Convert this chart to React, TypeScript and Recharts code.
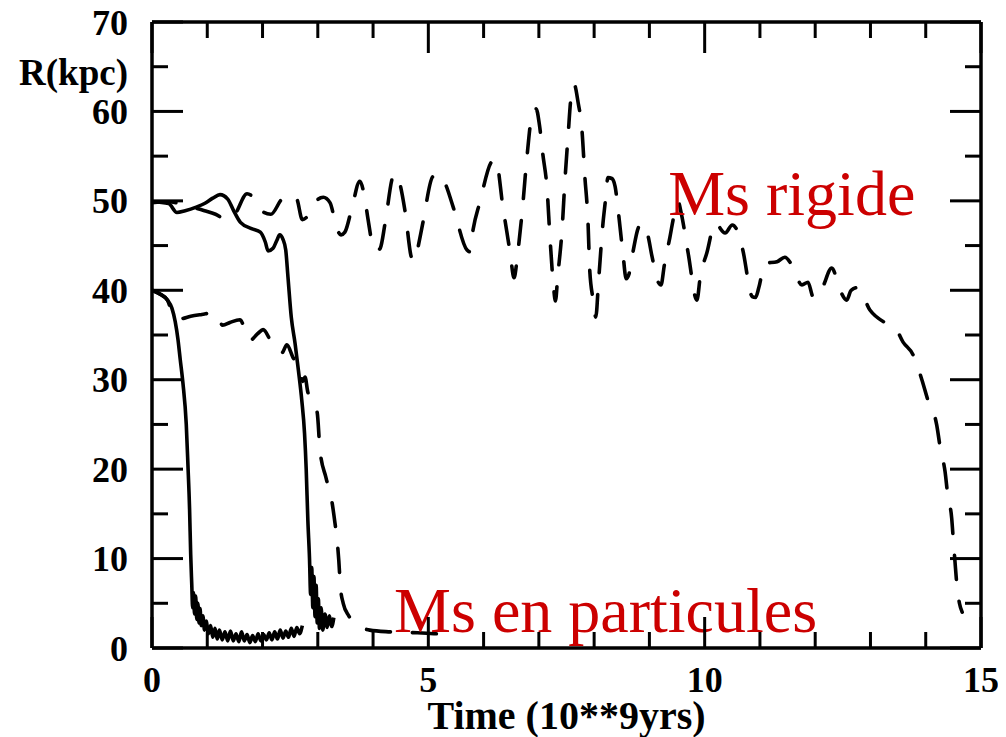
import React from 'react';
import { LineChart, Line, XAxis, YAxis, ReferenceDot } from 'recharts';

// ---- axis definitions ----
const xTicks = [0, 1, 2, 3, 4, 5, 6, 7, 8, 9, 10, 11, 12, 13, 14, 15];
const yTicks = [0, 5, 10, 15, 20, 25, 30, 35, 40, 45, 50, 55, 60, 65, 70];
const xLabelled = [0, 5, 10, 15];
const yLabelled = [0, 10, 20, 30, 40, 50, 60, 70];
const yTitle = 'R(kpc)';
const xTitle = 'Time (10**9yrs)';
const labelRigide = 'Ms rigide';
const labelParticules = 'Ms en particules';

// ---- series: time (Gyr) vs R (kpc) ----
const rigid50 = [
  { t: 0, r: 49.8 }, { t: 0.3, r: 49.9 }, { t: 0.6, r: 49.5 }, { t: 0.95, r: 48.9 },
  { t: 1.15, r: 48.5 }, { t: 1.35, r: 47.9 }, { t: 1.5, r: 48.5 }, { t: 1.72, r: 50.8 },
  { t: 1.86, r: 50.2 }, { t: 2.0, r: 48.8 }, { t: 2.15, r: 48.5 }, { t: 2.35, r: 50.2 },
  { t: 2.5, r: 50.7 }, { t: 2.62, r: 50.2 }, { t: 2.72, r: 47.9 }, { t: 2.82, r: 48.3 },
  { t: 2.99, r: 50.1 }, { t: 3.1, r: 50.4 }, { t: 3.22, r: 49.8 }, { t: 3.35, r: 46.8 },
  { t: 3.42, r: 46.2 }, { t: 3.49, r: 46.5 }, { t: 3.62, r: 49.3 }, { t: 3.76, r: 52.2 },
  { t: 3.85, r: 50.3 }, { t: 3.91, r: 47.9 }, { t: 4.0, r: 44.9 }, { t: 4.07, r: 44.4 },
  { t: 4.13, r: 44.7 }, { t: 4.22, r: 47.6 }, { t: 4.36, r: 52.7 }, { t: 4.42, r: 53.0 },
  { t: 4.49, r: 51.8 }, { t: 4.58, r: 48.8 }, { t: 4.7, r: 43.6 }, { t: 4.76, r: 43.3 },
  { t: 4.81, r: 44.7 }, { t: 4.9, r: 47.5 }, { t: 5.08, r: 52.7 }, { t: 5.19, r: 53.0 },
  { t: 5.3, r: 52.0 }, { t: 5.45, r: 49.3 }, { t: 5.7, r: 44.5 }, { t: 5.75, r: 44.3 },
  { t: 5.81, r: 46.8 }, { t: 5.93, r: 49.8 }, { t: 6.15, r: 54.4 }, { t: 6.22, r: 54.6 },
  { t: 6.35, r: 49.3 }, { t: 6.48, r: 44.2 }, { t: 6.55, r: 41.4 }, { t: 6.62, r: 44.3 },
  { t: 6.71, r: 49.6 }, { t: 6.78, r: 54.6 }, { t: 6.89, r: 60.0 }, { t: 6.95, r: 60.3 },
  { t: 7.01, r: 58.5 }, { t: 7.07, r: 55.3 }, { t: 7.15, r: 51.2 }, { t: 7.2, r: 46.0 },
  { t: 7.26, r: 40.8 }, { t: 7.3, r: 38.8 }, { t: 7.34, r: 41.5 }, { t: 7.42, r: 46.8 },
  { t: 7.47, r: 52.1 }, { t: 7.53, r: 57.4 }, { t: 7.58, r: 61.5 }, { t: 7.64, r: 63.0 },
  { t: 7.71, r: 61.0 }, { t: 7.78, r: 57.9 }, { t: 7.83, r: 52.9 }, { t: 7.89, r: 47.5 },
  { t: 7.92, r: 42.3 }, { t: 7.98, r: 39.0 }, { t: 8.03, r: 37.0 }, { t: 8.08, r: 41.0 },
  { t: 8.16, r: 47.5 }, { t: 8.2, r: 49.8 }, { t: 8.25, r: 52.6 }, { t: 8.32, r: 52.5 },
  { t: 8.38, r: 51.6 }, { t: 8.43, r: 49.2 }, { t: 8.52, r: 44.2 }, { t: 8.58, r: 41.3 },
  { t: 8.63, r: 41.8 }, { t: 8.7, r: 44.2 }, { t: 8.8, r: 47.0 }, { t: 8.87, r: 47.5 },
  { t: 8.97, r: 46.2 }, { t: 9.05, r: 43.7 }, { t: 9.16, r: 40.9 }, { t: 9.21, r: 40.6 },
  { t: 9.27, r: 42.8 }, { t: 9.37, r: 45.9 }, { t: 9.45, r: 48.5 }, { t: 9.52, r: 49.9 },
  { t: 9.58, r: 48.5 }, { t: 9.7, r: 44.2 }, { t: 9.86, r: 38.9 }, { t: 9.92, r: 41.5 },
  { t: 10.04, r: 44.2 }, { t: 10.19, r: 47.5 }, { t: 10.37, r: 46.4 }, { t: 10.5, r: 47.3 },
  { t: 10.6, r: 46.5 }, { t: 10.69, r: 44.5 }, { t: 10.86, r: 39.3 }, { t: 10.92, r: 39.2 },
  { t: 10.98, r: 40.3 }, { t: 11.09, r: 43.0 }, { t: 11.31, r: 43.2 }, { t: 11.45, r: 43.7 },
  { t: 11.58, r: 42.8 }, { t: 11.76, r: 40.6 }, { t: 11.87, r: 40.9 }, { t: 11.96, r: 39.3 },
  { t: 12.04, r: 39.2 }, { t: 12.14, r: 40.4 }, { t: 12.3, r: 42.5 }, { t: 12.45, r: 40.0 },
  { t: 12.57, r: 38.9 }, { t: 12.65, r: 40.0 }, { t: 12.77, r: 40.3 }, { t: 12.99, r: 37.8 },
  { t: 13.26, r: 36.4 }, { t: 13.44, r: 35.9 }, { t: 13.59, r: 34.2 }, { t: 13.77, r: 32.8 },
  { t: 13.93, r: 30.0 }, { t: 14.04, r: 27.7 }, { t: 14.2, r: 24.9 }, { t: 14.26, r: 22.5 },
  { t: 14.35, r: 19.7 }, { t: 14.4, r: 17.0 }, { t: 14.47, r: 14.5 }, { t: 14.5, r: 12.0 },
  { t: 14.53, r: 9.6 }, { t: 14.56, r: 7.3 }, { t: 14.61, r: 5.0 }, { t: 14.66, r: 4.0 },
];

const rigid40 = [
  { t: 0, r: 40.0 }, { t: 0.14, r: 39.6 }, { t: 0.28, r: 38.9 }, { t: 0.38, r: 37.2 },
  { t: 0.5, r: 36.8 }, { t: 0.7, r: 37.1 }, { t: 0.9, r: 37.3 }, { t: 1.14, r: 37.5 },
  { t: 1.28, r: 36.1 }, { t: 1.41, r: 36.4 }, { t: 1.59, r: 36.7 }, { t: 1.77, r: 34.4 },
  { t: 1.92, r: 35.2 }, { t: 2.01, r: 35.6 }, { t: 2.17, r: 34.1 }, { t: 2.35, r: 33.0 },
  { t: 2.44, r: 33.9 }, { t: 2.55, r: 32.5 }, { t: 2.68, r: 31.0 }, { t: 2.73, r: 29.8 },
  { t: 2.77, r: 30.3 }, { t: 2.82, r: 28.6 }, { t: 2.9, r: 27.8 }, { t: 2.99, r: 26.3 },
  { t: 3.04, r: 22.1 }, { t: 3.15, r: 19.0 }, { t: 3.26, r: 16.2 }, { t: 3.31, r: 14.0 },
  { t: 3.35, r: 12.0 }, { t: 3.38, r: 9.8 }, { t: 3.41, r: 6.8 }, { t: 3.46, r: 5.0 },
  { t: 3.56, r: 3.6 }, { t: 3.67, r: 2.8 }, { t: 3.94, r: 2.0 }, { t: 4.31, r: 1.8 },
  { t: 4.8, r: 1.7 }, { t: 5.1, r: 1.6 }, { t: 5.45, r: 1.5 },
];

const particles50 = [
  { t: 0, r: 49.9 }, { t: 0.3, r: 49.7 }, { t: 0.45, r: 48.7 }, { t: 0.6, r: 48.9 },
  { t: 0.8, r: 49.3 }, { t: 0.95, r: 49.7 }, { t: 1.1, r: 50.3 }, { t: 1.23, r: 50.7 },
  { t: 1.37, r: 50.2 }, { t: 1.47, r: 49.0 }, { t: 1.6, r: 47.6 }, { t: 1.8, r: 46.9 },
  { t: 1.96, r: 46.5 }, { t: 2.05, r: 45.4 }, { t: 2.1, r: 44.4 }, { t: 2.19, r: 44.7 },
  { t: 2.26, r: 45.6 }, { t: 2.31, r: 46.2 }, { t: 2.37, r: 45.7 }, { t: 2.42, r: 44.5 },
  { t: 2.46, r: 41.5 }, { t: 2.52, r: 37.0 }, { t: 2.59, r: 34.0 }, { t: 2.65, r: 31.0 },
  { t: 2.71, r: 27.7 }, { t: 2.76, r: 24.0 }, { t: 2.79, r: 20.0 }, { t: 2.82, r: 14.3 },
  { t: 2.85, r: 10.0 }, { t: 2.87, r: 6.0 }, { t: 2.89, r: 9.0 }, { t: 2.91, r: 4.5 },
  { t: 2.93, r: 8.0 }, { t: 2.95, r: 3.5 }, { t: 2.97, r: 7.0 }, { t: 2.99, r: 2.8 },
  { t: 3.01, r: 5.5 }, { t: 3.03, r: 2.2 }, { t: 3.06, r: 4.5 }, { t: 3.09, r: 2.0 },
  { t: 3.13, r: 3.8 }, { t: 3.17, r: 2.3 }, { t: 3.21, r: 3.6 }, { t: 3.25, r: 2.4 },
  { t: 3.29, r: 3.4 },
];

const particles40 = [
  { t: 0, r: 40.0 }, { t: 0.14, r: 39.6 }, { t: 0.28, r: 38.9 }, { t: 0.36, r: 38.0 },
  { t: 0.42, r: 36.5 }, { t: 0.47, r: 34.5 }, { t: 0.51, r: 32.3 }, { t: 0.56, r: 29.6 },
  { t: 0.62, r: 25.0 }, { t: 0.65, r: 20.5 }, { t: 0.68, r: 15.5 }, { t: 0.7, r: 10.5 },
  { t: 0.72, r: 7.0 }, { t: 0.735, r: 4.5 }, { t: 0.75, r: 6.2 }, { t: 0.77, r: 3.8 },
  { t: 0.79, r: 5.8 }, { t: 0.81, r: 3.2 }, { t: 0.83, r: 5.0 }, { t: 0.85, r: 2.8 },
  { t: 0.87, r: 4.4 }, { t: 0.89, r: 2.5 }, { t: 0.92, r: 3.6 }, { t: 0.95, r: 2.0 },
  { t: 0.98, r: 3.0 }, { t: 1.02, r: 1.6 }, { t: 1.06, r: 2.5 }, { t: 1.1, r: 1.2 },
  { t: 1.14, r: 2.2 }, { t: 1.18, r: 1.0 }, { t: 1.22, r: 2.0 }, { t: 1.27, r: 0.9 },
  { t: 1.32, r: 1.8 }, { t: 1.37, r: 0.8 }, { t: 1.42, r: 1.9 }, { t: 1.47, r: 0.8 },
  { t: 1.52, r: 1.6 }, { t: 1.57, r: 0.7 }, { t: 1.62, r: 1.8 }, { t: 1.67, r: 0.8 },
  { t: 1.72, r: 1.5 }, { t: 1.77, r: 0.6 }, { t: 1.82, r: 1.4 }, { t: 1.87, r: 0.7 },
  { t: 1.92, r: 1.6 }, { t: 1.97, r: 0.8 }, { t: 2.02, r: 1.5 }, { t: 2.07, r: 0.9 },
  { t: 2.12, r: 1.7 }, { t: 2.17, r: 0.9 }, { t: 2.22, r: 1.8 }, { t: 2.27, r: 1.0 },
  { t: 2.32, r: 2.0 }, { t: 2.37, r: 1.1 }, { t: 2.42, r: 1.9 }, { t: 2.47, r: 1.2 },
  { t: 2.52, r: 2.2 }, { t: 2.57, r: 1.3 }, { t: 2.62, r: 2.3 }, { t: 2.67, r: 1.6 },
  { t: 2.72, r: 2.5 },
];

// annotation anchors (data coordinates of the text baseline start)
const rigideAnchor = { t: 9.34, r: 48.4 };
const particulesAnchor = { t: 4.38, r: 1.8 };

const FONT = '"Liberation Serif", "Times New Roman", serif';
const INK = '#000';
const RED = '#cc0000';
const MAJOR = 31;
const MINOR = 16;

const BottomTick = (props: any) => {
  const { x, y, payload } = props;
  const v = payload.value;
  const major = xLabelled.includes(v);
  return (
    <g>
      <line x1={x} x2={x} y1={y} y2={y - (major ? MAJOR : MINOR)} stroke={INK} strokeWidth={3} />
      {major && (
        <text x={x} y={y + 44} textAnchor="middle" fontFamily={FONT} fontWeight="bold" fontSize={36} fill={INK}>
          {v}
        </text>
      )}
    </g>
  );
};

const TopTick = (props: any) => {
  const { x, y, payload } = props;
  const major = xLabelled.includes(payload.value);
  return <line x1={x} x2={x} y1={y} y2={y + (major ? MAJOR : MINOR)} stroke={INK} strokeWidth={3} />;
};

const LeftTick = (props: any) => {
  const { x, y, payload } = props;
  const v = payload.value;
  const major = yLabelled.includes(v);
  return (
    <g>
      <line x1={x} x2={x + (major ? MAJOR : MINOR)} y1={y} y2={y} stroke={INK} strokeWidth={3} />
      {major && (
        <text x={x - 24} y={y} dy="0.35em" textAnchor="end" fontFamily={FONT} fontWeight="bold" fontSize={36} fill={INK}>
          {v}
        </text>
      )}
      {v === 65 && (
        <text x={x - 24} y={y + 5} dy="0.35em" textAnchor="end" fontFamily={FONT} fontWeight="bold" fontSize={37} fill={INK}>
          {yTitle}
        </text>
      )}
    </g>
  );
};

const RightTick = (props: any) => {
  const { x, y, payload } = props;
  const major = yLabelled.includes(payload.value);
  return <line x1={x} x2={x - (major ? MAJOR : MINOR)} y1={y} y2={y} stroke={INK} strokeWidth={3} />;
};

const XTitle = (props: any) => {
  const vb = props.viewBox || {};
  return (
    <text x={vb.x + vb.width / 2} y={vb.y + 81} textAnchor="middle" fontFamily={FONT} fontWeight="bold" fontSize={40} fill={INK}>
      {xTitle}
    </text>
  );
};

const redText = (label: string, size: number) => (props: any) => (
  <text x={props.cx} y={props.cy} textAnchor="start" fontFamily={FONT} fontSize={size} fill={RED}>
    {label}
  </text>
);

const axisLine = { stroke: INK, strokeWidth: 3.5 };

export default function App() {
  return (
    <div style={{ width: 1006, height: 737, margin: '-8px 0 0 -8px', background: '#fff' }}>
      <LineChart width={1006} height={737} margin={{ top: 0, right: 0, bottom: 0, left: 0 }}>
        <XAxis
          xAxisId="b" type="number" dataKey="t" domain={[0, 15]} ticks={xTicks} interval={0}
          orientation="bottom" height={89} tickSize={0} tickMargin={0} tickLine={false}
          axisLine={axisLine} tick={<BottomTick />} allowDataOverflow label={<XTitle />}
        />
        <XAxis
          xAxisId="t" type="number" dataKey="t" domain={[0, 15]} ticks={xTicks} interval={0}
          orientation="top" height={22} tickSize={0} tickMargin={0} tickLine={false}
          axisLine={axisLine} tick={<TopTick />} allowDataOverflow
        />
        <YAxis
          yAxisId="l" type="number" domain={[0, 70]} ticks={yTicks} interval={0}
          orientation="left" width={152} tickSize={0} tickMargin={0} tickLine={false}
          axisLine={axisLine} tick={<LeftTick />} allowDataOverflow
        />
        <YAxis
          yAxisId="r" type="number" domain={[0, 70]} ticks={yTicks} interval={0}
          orientation="right" width={25} tickSize={0} tickMargin={0} tickLine={false}
          axisLine={axisLine} tick={<RightTick />} allowDataOverflow
        />
        <Line xAxisId="b" yAxisId="l" data={rigid50} dataKey="r" type="monotoneX" stroke={INK}
          strokeWidth={3.6} strokeDasharray="24 22" strokeLinecap="round" dot={false} activeDot={false} isAnimationActive={false} />
        <Line xAxisId="b" yAxisId="l" data={rigid40} dataKey="r" type="monotoneX" stroke={INK}
          strokeWidth={3.6} strokeDasharray="24 22" strokeLinecap="round" dot={false} activeDot={false} isAnimationActive={false} />
        <Line xAxisId="b" yAxisId="l" data={particles50} dataKey="r" type="monotoneX" stroke={INK}
          strokeWidth={3.6} dot={false} activeDot={false} isAnimationActive={false} />
        <Line xAxisId="b" yAxisId="l" data={particles40} dataKey="r" type="monotoneX" stroke={INK}
          strokeWidth={3.6} dot={false} activeDot={false} isAnimationActive={false} />
        <ReferenceDot xAxisId="b" yAxisId="l" x={rigideAnchor.t} y={rigideAnchor.r} r={0}
          ifOverflow="visible" shape={redText(labelRigide, 64)} />
        <ReferenceDot xAxisId="b" yAxisId="l" x={particulesAnchor.t} y={particulesAnchor.r} r={0}
          ifOverflow="visible" shape={redText(labelParticules, 64)} />
      </LineChart>
    </div>
  );
}
